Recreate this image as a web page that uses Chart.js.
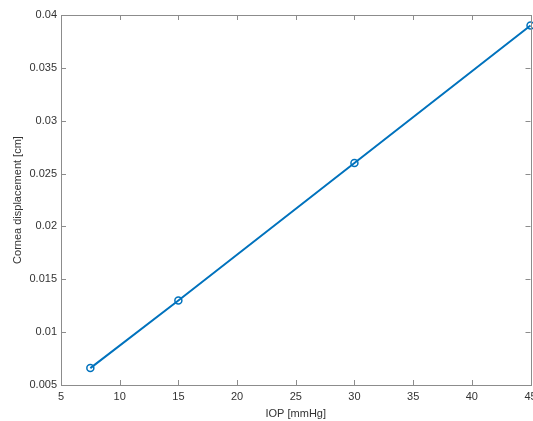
<!DOCTYPE html>
<html><head><meta charset="utf-8">
<script src="https://cdn.jsdelivr.net/npm/chart.js@4"></script>
<style>html,body{margin:0;padding:0;background:#fff;overflow:hidden}#wrap{width:536px;height:421px}</style>
</head><body><div id="wrap"><canvas id="c" width="536" height="421"></canvas></div>
<script>
const iop = [7.5, 15, 30, 45];
const displacement = [0.0066, 0.013, 0.026, 0.039];
const xTicks = [5, 10, 15, 20, 25, 30, 35, 40, 45];
const yTicks = [0.005, 0.01, 0.015, 0.02, 0.025, 0.03, 0.035, 0.04];
const xLabel = 'IOP [mmHg]';
const yLabel = 'Cornea displacement [cm]';

const boxColor = '#8c8c8c';
const textColor = '#333333';
const fontFam = '"Liberation Sans", Arial, Helvetica, sans-serif';

const insideTicks = {
  id: 'insideTicks',
  afterDraw(chart) {
    const {ctx, chartArea: a, scales} = chart;
    ctx.save();
    ctx.strokeStyle = boxColor;
    ctx.lineWidth = 1;
    ctx.strokeRect(Math.round(a.left) + 0.5, Math.round(a.top) + 0.5, Math.round(a.right - a.left), Math.round(a.bottom - a.top));
    const L = 5;
    ctx.beginPath();
    xTicks.forEach(v => {
      const px = Math.round(scales.x.getPixelForValue(v)) + 0.5;
      ctx.moveTo(px, a.bottom); ctx.lineTo(px, a.bottom - L);
      ctx.moveTo(px, a.top); ctx.lineTo(px, a.top + L);
    });
    yTicks.forEach(v => {
      const py = Math.round(scales.y.getPixelForValue(v)) + 0.5;
      ctx.moveTo(a.left, py); ctx.lineTo(a.left + L, py);
      ctx.moveTo(a.right, py); ctx.lineTo(a.right - L, py);
    });
    ctx.stroke();
    ctx.restore();
  }
};

new Chart(document.getElementById('c'), {
  type: 'line',
  data: {
    datasets: [{
      data: iop.map((x, i) => ({x, y: displacement[i]})),
      borderColor: '#0072BD',
      backgroundColor: 'rgba(0,0,0,0)',
      borderWidth: 2,
      pointStyle: 'circle',
      pointRadius: 3.5,
      pointBorderWidth: 1.5,
      pointBorderColor: '#0072BD',
      pointBackgroundColor: 'rgba(0,0,0,0)',
      tension: 0,
      clip: false
    }]
  },
  options: {
    responsive: false,
    animation: false,
    layout: {padding: {top: 15, right: 0, left: 0, bottom: 0}},
    plugins: {legend: {display: false}, tooltip: {enabled: false}},
    scales: {
      x: {
        type: 'linear', min: 5, max: 45,
        afterBuildTicks: s => { s.ticks = xTicks.map(v => ({value: v})); },
        afterFit: s => { s.height = 36; s.paddingLeft = 0; s.paddingRight = 0; },
        grid: {display: false, drawTicks: false},
        border: {display: false},
        ticks: {color: textColor, font: {family: fontFam, size: 11}, padding: 5, maxRotation: 0, autoSkip: false,
                callback: v => String(v)},
        title: {display: true, text: xLabel, color: textColor, font: {family: fontFam, size: 11}, padding: {top: 0, bottom: 0}}
      },
      y: {
        type: 'linear', min: 0.005, max: 0.04,
        afterBuildTicks: s => { s.ticks = yTicks.map(v => ({value: v})); },
        afterFit: s => { s.width = 61; s.paddingTop = 0; s.paddingBottom = 0; },
        grid: {display: false, drawTicks: false},
        border: {display: false},
        ticks: {color: textColor, font: {family: fontFam, size: 11}, padding: 4, autoSkip: false,
                callback: v => String(parseFloat(v.toFixed(4)))},
        title: {display: true, text: yLabel, color: textColor, font: {family: fontFam, size: 11}, padding: {top: 11, bottom: 0}}
      }
    }
  },
  plugins: [insideTicks]
});
</script></body></html>
